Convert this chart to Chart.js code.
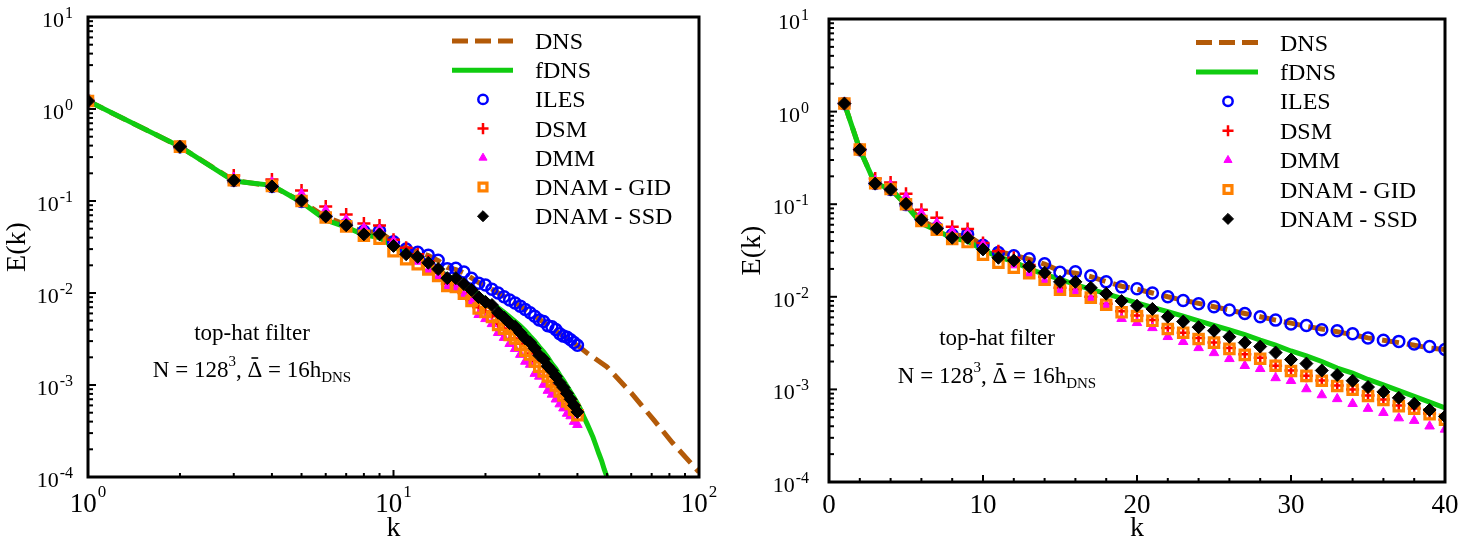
<!DOCTYPE html>
<html>
<head>
<meta charset="utf-8">
<script src="https://cdn.jsdelivr.net/npm/chart.js"></script>
<style>
  body { margin: 0; background: #fff; }
  #wrap { position: relative; width: 1459px; height: 541px; }
  canvas { position: absolute; top: 0; }
</style>
</head>
<body>
<div id="wrap">
  <canvas id="left" width="729" height="541" style="left:0px"></canvas>
  <canvas id="right" width="730" height="541" style="left:729px"></canvas>
</div>
<script>
// ---- data ----
var kLes = [1,2,3,4,5,6,7,8,9,10,11,12,13,14,15,16,17,18,19,20,
            21,22,23,24,25,26,27,28,29,30,31,32,33,34,35,36,37,38,39,40];

var dnsK = [1,2,3,4,5,6,7,8,9,10,11,12,13,14,15,16,17,18,19,20,
            21,22,23,24,25,26,27,28,29,30,31,32,33,34,35,36,37,38,39,40,
            43,50,60,71,82,100];
var dnsE = [1.22,0.39,0.167,0.145,0.099,0.067,0.055,0.046,0.046,0.036,
            0.031,0.028,0.0255,0.0225,0.019,0.018,0.0165,0.0146,0.013,0.0121,
            0.011,0.0100,0.0092,0.0085,0.0078,0.0072,0.0066,0.0061,0.0056,0.0052,
            0.0048,0.0045,0.0042,0.0039,0.0036,0.0034,0.0032,0.0030,0.0028,0.0027,
            0.00223,0.00157,0.00082,0.00042,0.000234,0.000113];

var fdnsK = [1,2,3,4,5,6,7,8,9,10,11,12,13,14,15,16,17,18,19,20,
             21,22,23,24,25,26,27,28,29,30,31,32,33,34,35,36,37,38,39,40,
             41,42,43,44,45,46,47,48,49,50,51];
var fdnsE = [1.22,0.39,0.165,0.148,0.097,0.062,0.052,0.043,0.040,0.032,
             0.027,0.024,0.020,0.0175,0.0155,0.0135,0.012,0.0108,0.0096,0.0086,
             0.0077,0.0069,0.0062,0.0055,0.0049,0.0044,0.0039,0.0034,0.0030,0.0026,
             0.0023,0.0020,0.0017,0.0015,0.00128,0.00112,0.00097,0.00084,0.00073,0.00063,
             0.00054,0.00045,0.00038,0.00032,0.00027,0.00022,0.00018,0.00015,0.00012,0.0001,0.00008];

var ilesE = [1.22,0.388,0.167,0.144,0.099,0.068,0.0557,0.0468,0.0475,0.036,
             0.030,0.0277,0.0258,0.0227,0.0184,0.0186,0.0169,0.0145,0.0128,0.0122,
             0.0110,0.0100,0.0091,0.0084,0.0078,0.0072,0.0066,0.0061,0.0056,0.0051,
             0.0049,0.0044,0.0043,0.0040,0.0036,0.0034,0.0033,0.0031,0.0029,0.0027];

var dsmE = [1.22,0.39,0.189,0.171,0.130,0.087,0.0715,0.057,0.054,0.038,
            0.031,0.0264,0.022,0.0165,0.0125,0.0120,0.0100,0.0084,0.0070,0.0063,
            0.0056,0.0046,0.0041,0.0036,0.0032,0.0028,0.0024,0.0022,0.0018,0.0016,
            0.0014,0.00125,0.0011,0.0010,0.00086,0.00078,0.00067,0.00062,0.00055,0.00047];

var dmmE = [1.22,0.39,0.18,0.16,0.120,0.080,0.063,0.051,0.049,0.0366,
            0.027,0.022,0.0177,0.0149,0.0116,0.0113,0.0095,0.0080,0.0058,0.00524,
            0.00462,0.0037,0.00327,0.00281,0.00248,0.00214,0.0018,0.00167,0.00133,0.00124,
            0.00101,0.00087,0.00079,0.0007,0.00062,0.00056,0.00049,0.00046,0.0004,0.00037];

var gidE = [1.22,0.39,0.168,0.146,0.100,0.066,0.053,0.042,0.039,0.0285,
            0.0233,0.0206,0.0180,0.0153,0.0119,0.0116,0.0098,0.0082,0.0068,0.0062,
            0.0055,0.0045,0.0041,0.0035,0.0032,0.00274,0.00236,0.00214,0.0018,0.00158,
            0.0014,0.00124,0.00109,0.00099,0.00085,0.00077,0.00066,0.00062,0.00054,0.00047];

var ssdE = [1.22,0.388,0.167,0.144,0.101,0.068,0.0545,0.0434,0.0434,0.0325,
            0.0264,0.0247,0.0213,0.0182,0.0145,0.0145,0.0125,0.0108,0.009,0.008,
            0.0074,0.0061,0.0054,0.0047,0.0043,0.0037,0.0032,0.0029,0.0025,0.0021,
            0.0019,0.0016,0.00143,0.00124,0.00106,0.00094,0.00081,0.0007,0.0006,0.00051];

var seriesNames = ['DNS', 'fDNS', 'ILES', 'DSM', 'DMM', 'DNAM - GID', 'DNAM - SSD'];

// tick labels
var yMajor = [1e-4, 1e-3, 1e-2, 1e-1, 1, 10];
var yExp = ['-4', '-3', '-2', '-1', '0', '1'];
var xLogMajor = [1, 10, 100];
var xLogExp = ['0', '1', '2'];
var xLinMajor = [0, 10, 20, 30, 40];
var xLinLabels = ['0', '10', '20', '30', '40'];
var noteLine1 = 'top-hat filter';

// ---- styles ----
var SERIF = '"Liberation Serif", "Times New Roman", Times, serif';
var styles = [
  { line: true, color: '#b35a08', dash: [17, 8] },
  { line: true, color: '#10cc10' },
  { style: 'circle', color: '#0000ff', fill: 'rgba(0,0,0,0)', r: 5.5, bw: 2.5 },
  { style: 'cross', color: '#ff0000', fill: '#ff0000', r: 6.5, bw: 2.5 },
  { style: 'triangle', color: '#ff00ff', fill: '#ff00ff', r: 5.5, bw: 1 },
  { style: 'rect', color: '#ff8000', fill: 'rgba(0,0,0,0)', r: 6.6, bw: 3.2 },
  { style: 'rectRot', color: '#000000', fill: '#000000', r: 6.5, bw: 1 }
];

function pts(xs, ys) {
  var out = [];
  for (var i = 0; i < ys.length; i++) out.push({ x: xs[i], y: ys[i] });
  return out;
}

function buildDatasets() {
  var vals = [pts(dnsK, dnsE), pts(fdnsK, fdnsE), pts(kLes, ilesE), pts(kLes, dsmE),
              pts(kLes, dmmE), pts(kLes, gidE), pts(kLes, ssdE)];
  var ds = [];
  for (var i = 0; i < vals.length; i++) {
    var s = styles[i];
    if (s.line) {
      ds.push({ label: seriesNames[i], data: vals[i], showLine: true, borderColor: s.color,
        borderWidth: 5, borderDash: s.dash || [], pointRadius: 0, fill: false, order: 7 - i });
    } else {
      ds.push({ label: seriesNames[i], data: vals[i], showLine: false,
        pointStyle: s.style, pointRadius: s.r, pointHoverRadius: s.r,
        pointBorderWidth: s.bw, pointBorderColor: s.color, pointBackgroundColor: s.fill,
        borderColor: s.color, backgroundColor: s.fill, order: 7 - i });
    }
  }
  return ds;
}

function tickLine(ctx, x1, y1, x2, y2) {
  ctx.beginPath(); ctx.moveTo(x1, y1); ctx.lineTo(x2, y2); ctx.stroke();
}

function pow10(ctx, exp, x, y, big, small, raise, align) {
  ctx.font = big + 'px ' + SERIF;
  var w1 = ctx.measureText('10').width;
  ctx.font = small + 'px ' + SERIF;
  var w2 = ctx.measureText(exp).width;
  var x0 = align == 'right' ? x - w1 - w2 - 1 : x - (w1 + w2 + 1) / 2;
  ctx.textAlign = 'left';
  ctx.textBaseline = 'alphabetic';
  ctx.font = big + 'px ' + SERIF;
  ctx.fillText('10', x0, y);
  ctx.font = small + 'px ' + SERIF;
  ctx.fillText(exp, x0 + w1 + 1, y - raise);
}

function drawNote(ctx, cx, y1, y2) {
  ctx.textBaseline = 'alphabetic';
  ctx.textAlign = 'center';
  ctx.font = '23px ' + SERIF;
  ctx.fillText(noteLine1, cx, y1);
  var parts = [['N = 128', 23, 0], ['3', 15, 11], [', ', 23, 0], ['\u0394', 23, 0],
               [' = 16h', 23, 0], ['DNS', 15, -5]];
  var total = 0, i;
  for (i = 0; i < parts.length; i++) {
    ctx.font = parts[i][1] + 'px ' + SERIF;
    parts[i].push(ctx.measureText(parts[i][0]).width);
    total += parts[i][3];
  }
  var x = cx - total / 2;
  ctx.textAlign = 'left';
  for (i = 0; i < parts.length; i++) {
    ctx.font = parts[i][1] + 'px ' + SERIF;
    ctx.fillText(parts[i][0], x, y2 - parts[i][2]);
    if (parts[i][0] == '\u0394') {
      ctx.lineWidth = 1.6;
      tickLine(ctx, x + 4, y2 - 19, x + parts[i][3] - 4, y2 - 19);
    }
    x += parts[i][3];
  }
}

function drawLegend(ctx, L) {
  for (var i = 0; i < seriesNames.length; i++) {
    var y = L.y0 + i * L.dy;
    var s = styles[i];
    ctx.save();
    if (s.line) {
      ctx.strokeStyle = s.color;
      ctx.lineWidth = 5;
      ctx.setLineDash(s.dash ? [16, 7] : []);
      tickLine(ctx, L.x1, y, L.x2, y);
    } else {
      ctx.strokeStyle = s.color;
      ctx.fillStyle = s.fill;
      ctx.lineWidth = s.bw;
      Chart.helpers.drawPoint(ctx, { pointStyle: s.style, rotation: 0, radius: s.r * 0.85, borderWidth: s.bw }, L.xm, y);
    }
    ctx.restore();
    ctx.fillStyle = '#000';
    ctx.font = '24px ' + SERIF;
    ctx.textAlign = 'left';
    ctx.textBaseline = 'alphabetic';
    ctx.fillText(seriesNames[i], L.xt, y + 8);
  }
}

var framePlugin = {
  id: 'frame',
  afterDraw: function (chart, args, o) {
    var ctx = chart.ctx, a = chart.chartArea;
    var xs = chart.scales.x, ys = chart.scales.y;
    var i, d, m, p;
    ctx.save();
    ctx.strokeStyle = '#000';
    ctx.fillStyle = '#000';
    ctx.lineWidth = 2;
    // y ticks (inward)
    for (i = 0; i < yMajor.length; i++) {
      p = ys.getPixelForValue(yMajor[i]);
      tickLine(ctx, a.left, p, a.left + 8, p);
    }
    for (d = 0; d < yMajor.length - 1; d++) {
      for (m = 2; m <= 9; m++) {
        p = ys.getPixelForValue(m * yMajor[d]);
        tickLine(ctx, a.left, p, a.left + 5, p);
      }
    }
    // x ticks
    if (o.logX) {
      for (i = 0; i < xLogMajor.length; i++) {
        p = xs.getPixelForValue(xLogMajor[i]);
        tickLine(ctx, p, a.bottom, p, a.bottom - 7);
      }
      for (d = 0; d < xLogMajor.length - 1; d++) {
        for (m = 2; m <= 9; m++) {
          p = xs.getPixelForValue(m * xLogMajor[d]);
          tickLine(ctx, p, a.bottom, p, a.bottom - 4);
        }
      }
    } else {
      for (i = 0; i < xLinMajor.length; i++) {
        p = xs.getPixelForValue(xLinMajor[i]);
        tickLine(ctx, p, a.bottom, p, a.bottom - 7);
      }
      for (i = 0; i < xLinMajor.length - 1; i++) {
        for (m = 2; m < 10; m += 2) {
          p = xs.getPixelForValue(xLinMajor[i] + m);
          tickLine(ctx, p, a.bottom, p, a.bottom - 4);
        }
      }
    }
    // frame
    ctx.lineWidth = 3;
    ctx.strokeRect(a.left, a.top, a.right - a.left, a.bottom - a.top);

    // y labels
    for (i = 0; i < yMajor.length; i++) {
      p = ys.getPixelForValue(yMajor[i]);
      pow10(ctx, yExp[i], a.left - o.yLabGap, p + 10, 22, 16, 9, 'right');
    }
    // x labels
    if (o.logX) {
      for (i = 0; i < xLogMajor.length; i++) {
        p = xs.getPixelForValue(xLogMajor[i]);
        pow10(ctx, xLogExp[i], p, 512, 27, 17, 15, 'center');
      }
    } else {
      ctx.font = '27px ' + SERIF;
      ctx.textAlign = 'center';
      ctx.textBaseline = 'alphabetic';
      for (i = 0; i < xLinMajor.length; i++) {
        p = xs.getPixelForValue(xLinMajor[i]);
        ctx.fillText(xLinLabels[i], p, 513);
      }
    }
    // axis titles
    ctx.font = '28px ' + SERIF;
    ctx.textAlign = 'center';
    ctx.textBaseline = 'alphabetic';
    ctx.fillText('k', (a.left + a.right) / 2, 536);
    ctx.save();
    ctx.translate(o.titleX, (a.top + a.bottom) / 2);
    ctx.rotate(-Math.PI / 2);
    ctx.textBaseline = 'middle';
    ctx.fillText('E(k)', 0, 0);
    ctx.restore();

    drawNote(ctx, o.noteX, o.noteY1, o.noteY2);
    drawLegend(ctx, o.legend);
    ctx.restore();
  }
};

function makeChart(id, xScale, pad, frameOpts) {
  var ctx = document.getElementById(id).getContext('2d');
  return new Chart(ctx, {
    type: 'scatter',
    data: { datasets: buildDatasets() },
    options: {
      responsive: false,
      animation: false,
      events: [],
      layout: { padding: pad },
      scales: {
        x: xScale,
        y: { type: 'logarithmic', min: 1e-4, max: 10, display: false }
      },
      plugins: {
        legend: { display: false },
        tooltip: { enabled: false },
        frame: frameOpts
      }
    },
    plugins: [framePlugin]
  });
}

makeChart('left',
  { type: 'logarithmic', min: 1, max: 100, display: false },
  { left: 88, right: 30, top: 17, bottom: 64 },
  { logX: true, yLabGap: 15, titleX: 18, noteX: 252, noteY1: 340, noteY2: 377,
    legend: { x1: 452, x2: 513, xm: 483, xt: 535, y0: 41, dy: 29.2 } });

makeChart('right',
  { type: 'linear', min: 0, max: 40, display: false },
  { left: 100, right: 14, top: 19, bottom: 59 },
  { logX: false, yLabGap: 20, titleX: 24, noteX: 268, noteY1: 345, noteY2: 383,
    legend: { x1: 467, x2: 529, xm: 499, xt: 551, y0: 42.5, dy: 29.4 } });
</script>
</body>
</html>
